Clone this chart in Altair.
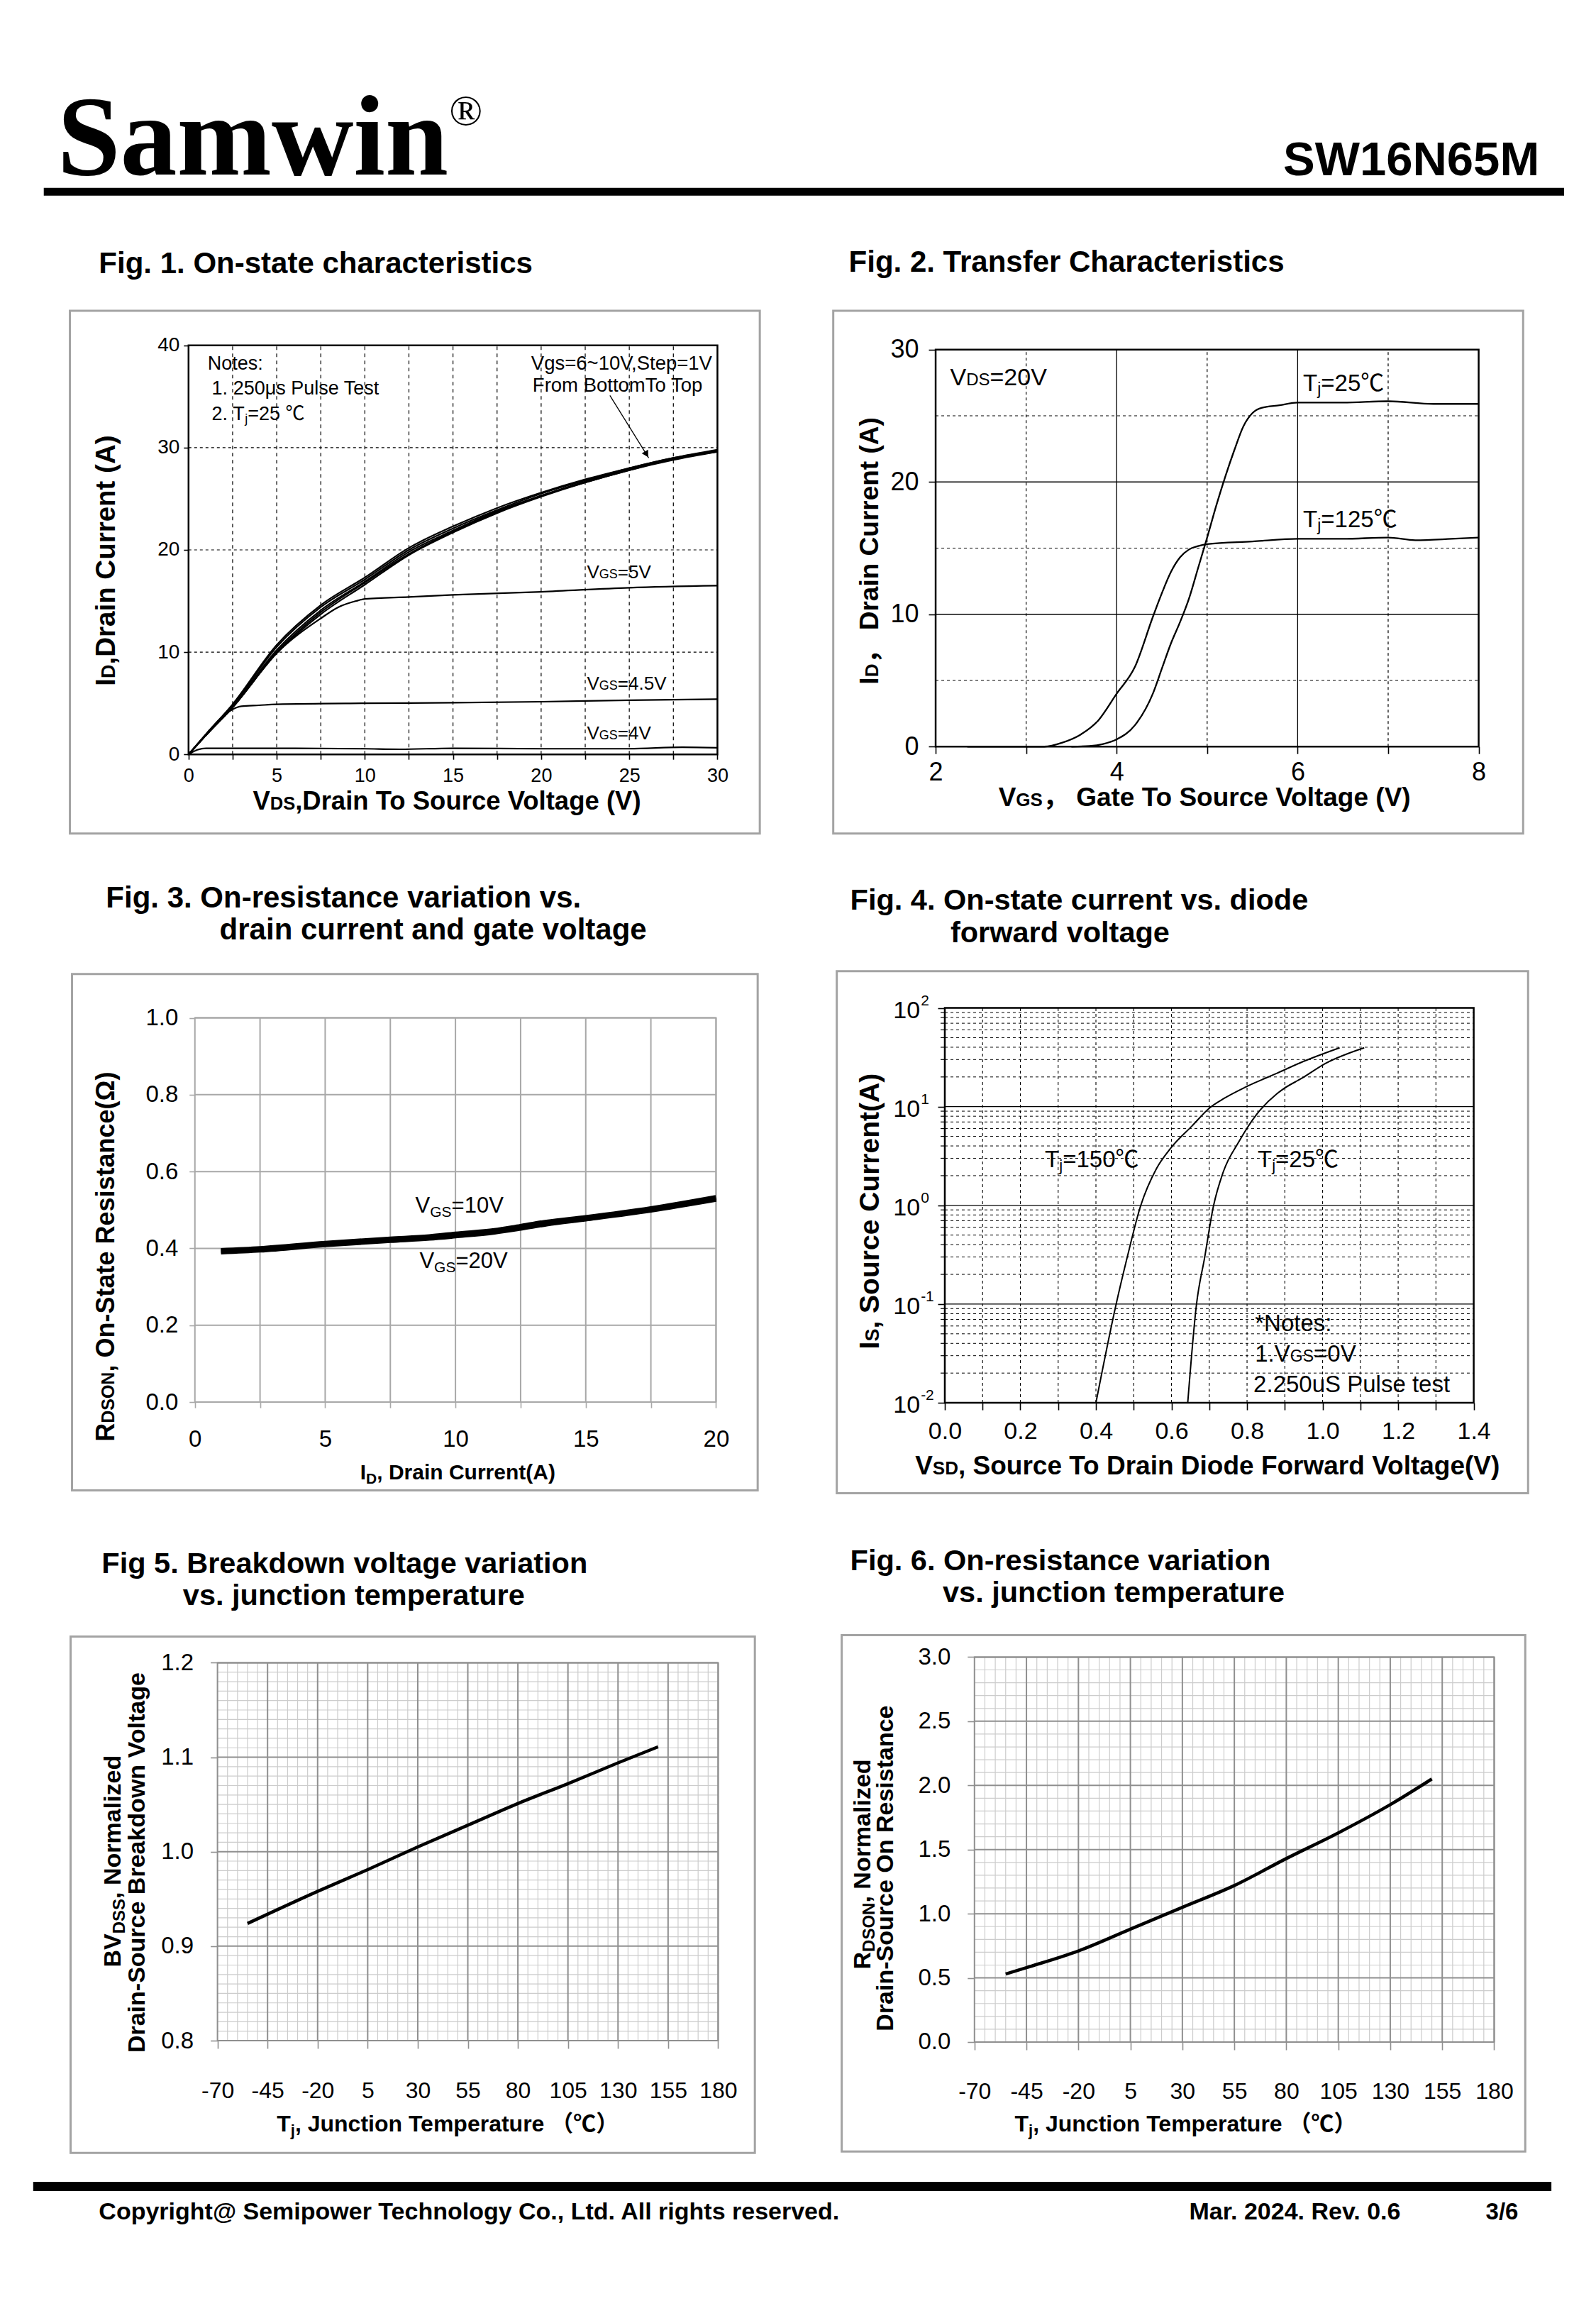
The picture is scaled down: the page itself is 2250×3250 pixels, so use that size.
import altair as alt
import pandas as pd

# ======================= values =======================
# Fig. 1  On-state characteristics (VDS [V] -> ID [A])
f1_vds = [0, 1, 2.5, 5, 7.5, 10, 12.5, 15, 17.5, 20, 22.5, 25, 27.5, 30]
f1_id_10v = [0, 2.0, 4.9, 10.7, 14.6, 17.3, 20.2, 22.3, 24.1, 25.6, 26.9, 28.0, 29.0, 29.8]
f1_id_9v = [0, 2.0, 4.8, 10.5, 14.4, 17.1, 20.0, 22.1, 23.9, 25.5, 26.8, 28.0, 29.0, 29.7]
f1_id_8v = [0, 1.9, 4.7, 10.2, 14.1, 16.9, 19.8, 21.9, 23.8, 25.3, 26.7, 27.9, 28.9, 29.7]
f1_id_7v = [0, 1.9, 4.6, 10.0, 13.9, 16.8, 19.6, 21.8, 23.7, 25.3, 26.6, 27.8, 28.9, 29.6]
f1_id_6v = [0, 1.9, 4.6, 9.9, 13.7, 16.6, 19.5, 21.7, 23.6, 25.2, 26.6, 27.8, 28.8, 29.6]
f1_vds_5v = [0, 1, 2.5, 5, 7.5, 8.5, 9.5, 10, 12.5, 15, 20, 25, 30]
f1_id_5v = [0, 1.9, 4.6, 9.9, 13.3, 14.4, 15.0, 15.2, 15.4, 15.6, 15.9, 16.3, 16.5]
f1_vds_45v = [0, 1, 2, 2.5, 3, 4, 5, 10, 15, 20, 25, 30]
f1_id_45v = [0, 1.9, 3.8, 4.4, 4.7, 4.8, 4.9, 5.0, 5.05, 5.15, 5.3, 5.4]
f1_vds_4v = [0, 0.5, 1, 3, 5, 10, 12, 15, 20, 25, 28, 30]
f1_id_4v = [0, 0.45, 0.6, 0.6, 0.6, 0.55, 0.5, 0.6, 0.55, 0.55, 0.7, 0.65]
f1_arrow_x = [23.9, 26.1]
f1_arrow_y = [35.1, 29.0]
f1_xdom, f1_ydom = [0, 30], [0, 40]
f1_xticks = [0, 2.5, 5, 7.5, 10, 12.5, 15, 17.5, 20, 22.5, 25, 27.5, 30]
f1_yticks = [0, 10, 20, 30, 40]

# Fig. 2  Transfer characteristics (VGS [V] -> ID [A])
f2_vgs_25 = [3.5, 3.7, 3.85, 4.0, 4.2, 4.4, 4.5, 4.6, 4.7, 4.8, 4.9, 5.0, 5.1, 5.2, 5.3, 5.4,
             5.5, 5.6, 5.8, 6.0, 6.5, 7.0, 7.5, 8.0]
f2_id_25 = [0, 0.05, 0.2, 0.55, 1.6, 4.0, 5.9, 7.8, 9.4, 11.2, 13.5, 15.8, 18.2, 20.4, 22.4, 24.2,
            25.2, 25.6, 25.8, 26.0, 26.0, 26.1, 25.9, 25.9]
f2_vgs_125 = [2.35, 3.2, 3.4, 3.6, 3.8, 4.0, 4.2, 4.4, 4.5, 4.6, 4.7, 4.8, 4.9, 5.0, 5.5, 6.0,
              6.5, 7.0, 7.3, 7.7, 8.0]
f2_id_125 = [0, 0, 0.3, 0.9, 2.0, 4.0, 6.0, 9.8, 11.6, 13.2, 14.3, 14.9, 15.15, 15.3, 15.5, 15.7,
             15.7, 15.8, 15.6, 15.7, 15.8]
f2_xdom, f2_ydom = [2, 8], [0, 30]
f2_xticks = [2, 3, 4, 5, 6, 7, 8]
f2_yticks = [0, 10, 20, 30]

# Fig. 3  RDS(on) vs ID
f3_id = [1, 2.5, 5, 7.5, 9, 10, 11.5, 12.5, 13.5, 15, 17.5, 20]
f3_r_10v = [0.394, 0.399, 0.413, 0.424, 0.430, 0.437, 0.446, 0.457, 0.468, 0.480, 0.503, 0.532]
f3_r_20v = [0.391, 0.396, 0.410, 0.421, 0.427, 0.433, 0.443, 0.453, 0.464, 0.477, 0.500, 0.528]
f3_xdom, f3_ydom = [0, 20], [0, 1]
f3_xticks = [0, 2.5, 5, 7.5, 10, 12.5, 15, 17.5, 20]
f3_yticks = [0, 0.2, 0.4, 0.6, 0.8, 1.0]

# Fig. 4  Body diode forward characteristics (VSD [V] -> IS [A])
f4_vsd_150 = [0.40, 0.453, 0.483, 0.518, 0.56, 0.598, 0.654, 0.702, 0.737, 0.796, 0.879, 0.95, 1.045]
f4_is_150 = [0.01, 0.098, 0.30, 0.98, 2.35, 3.8, 6.35, 9.8, 12.0, 15.8, 21.8, 28.8, 39.5]
f4_vsd_25 = [0.643, 0.666, 0.688, 0.711, 0.737, 0.779, 0.826, 0.879, 0.897, 0.944, 1.009, 1.11]
f4_is_25 = [0.01, 0.098, 0.30, 0.98, 2.18, 4.45, 8.4, 13.5, 15.2, 19.3, 27.6, 39.5]
f4_xdom, f4_ydom = [0, 1.4], [0.01, 100]
f4_xticks = [0, 0.1, 0.2, 0.3, 0.4, 0.5, 0.6, 0.7, 0.8, 0.9, 1.0, 1.1, 1.2, 1.3, 1.4]
f4_decades = [0.01, 0.1, 1, 10, 100]
f4_exponents = ["-2", "-1", "0", "1", "2"]

# Fig. 5  Normalized BVDSS vs Tj
f5_tj = [-55, -20, 5, 30, 55, 80, 105, 130, 150]
f5_bv = [0.924, 0.958, 0.981, 1.005, 1.028, 1.051, 1.072, 1.094, 1.111]
f5_xdom, f5_ydom = [-70, 180], [0.8, 1.2]
f5_xticks = [-70, -45, -20, 5, 30, 55, 80, 105, 130, 155, 180]
f5_yticks = [0.8, 0.9, 1.0, 1.1, 1.2]

# Fig. 6  Normalized RDS(on) vs Tj
f6_tj = [-55, -45, -20, 5, 30, 55, 80, 105, 130, 150]
f6_r = [0.53, 0.58, 0.71, 0.88, 1.05, 1.22, 1.43, 1.63, 1.85, 2.05]
f6_xdom, f6_ydom = [-70, 180], [0, 3]
f6_xticks = [-70, -45, -20, 5, 30, 55, 80, 105, 130, 155, 180]
f6_yticks = [0, 0.5, 1.0, 1.5, 2.0, 2.5, 3.0]

# ======================= helpers =======================
W, H = 2234, 3234
K = 0.9955  # calibration of the measured page coordinates


def P(v):
    return v * K - 8


SANS = "Liberation Sans, Arial, Noto Sans CJK SC, DejaVu Sans, sans-serif"
SERIF = "Liberation Serif, Times New Roman, serif"

_U = "ABCDEFGHIJKLMNOPQRSTUVWXYZ"
_L = "abcdefghijklmnopqrstuvwxyz"
REG_W = dict(zip(_U, [667, 667, 722, 722, 667, 611, 778, 722, 278, 500, 667, 556, 833, 722, 778, 667,
                      778, 722, 667, 611, 722, 667, 944, 667, 667, 611]))
REG_W.update(zip(_L, [556, 556, 500, 556, 556, 278, 556, 556, 222, 222, 500, 222, 833, 556, 556, 556,
                      556, 333, 500, 278, 556, 500, 722, 500, 500, 500]))
BOLD_W = dict(zip(_U, [722, 722, 722, 722, 667, 611, 778, 722, 278, 556, 722, 611, 833, 722, 778, 667,
                       778, 722, 667, 611, 722, 667, 944, 667, 667, 611]))
BOLD_W.update(zip(_L, [556, 611, 556, 611, 556, 333, 611, 611, 278, 278, 556, 278, 889, 611, 611, 611,
                       611, 389, 556, 333, 611, 556, 778, 556, 556, 500]))
for _t in (REG_W, BOLD_W):
    _t.update({c: 556 for c in "0123456789"})
    _t.update({" ": 278, ".": 278, ",": 278, "=": 584, "-": 333, "(": 333, ")": 333, "~": 584})
REG_W[":"] = 278
BOLD_W[":"] = 333


def tw(s, size, bold):
    tab = BOLD_W if bold else REG_W
    return sum(tab.get(c, 556) for c in s) * size / 1000.0


ONE = alt.Data(values=[{"k": 0}])


def _tprops(t, size, bold, align, angle, dx, dy, font, color):
    props = dict(text=t, fontSize=size, fontWeight="bold" if bold else "normal", align=align,
                 baseline="alphabetic", font=font, color=color)
    if angle:
        props["angle"] = angle
    if dx:
        props["dx"] = round(dx, 2)
    if dy:
        props["dy"] = round(dy, 2)
    return props


def ptext(x, y, t, size, bold=False, align="left", angle=0, dx=0.0, dy=0.0, font=SANS, color="black"):
    return alt.Chart(ONE).mark_text(**_tprops(t, size, bold, align, angle, dx, dy, font, color)).encode(
        x=alt.value(round(P(x), 2)), y=alt.value(round(P(y), 2)))


def prich(x, y, segs, angle=0):
    out, off = [], 0.0
    for t, size, bold, shift in segs:
        out.append(ptext(x, y, t, size, bold, "left", angle, off, shift))
        off += tw(t, size, bold)
    return out


def dtext(sx, sy, x, y, t, size, bold=False, align="left", dx=0.0, dy=0.0):
    return alt.Chart(alt.Data(values=[{"x": x, "y": y}])).mark_text(
        **_tprops(t, size, bold, align, 0, dx, dy, SANS, "black")).encode(
        x=alt.X("x:Q", scale=sx, axis=None), y=alt.Y("y:Q", scale=sy, axis=None))


def drich(sx, sy, x, y, segs):
    out, off = [], 0.0
    for t, size, bold, shift in segs:
        out.append(dtext(sx, sy, x, y, t, size, bold, "left", off, shift))
        off += tw(t, size, bold)
    return out


def prect(x0, y0, x1, y1, fill=None, stroke=None, sw=0):
    props = {}
    if fill:
        props["fill"] = fill
    else:
        props["fillOpacity"] = 0
    if stroke:
        props["stroke"] = stroke
        props["strokeWidth"] = sw
    return alt.Chart(ONE).mark_rect(**props).encode(
        x=alt.value(round(P(x0), 2)), x2=alt.value(round(P(x1), 2)),
        y=alt.value(round(P(y0), 2)), y2=alt.value(round(P(y1), 2)))


def lin(d, r):
    return alt.Scale(domain=d, range=[round(P(r[0]), 2), round(P(r[1]), 2)], nice=False, zero=False)


def vgrid(sx, sy, vals, ydom, color, width, dash=None):
    df = pd.DataFrame({"v": vals, "lo": ydom[0], "hi": ydom[1]})
    m = dict(color=color, strokeWidth=width)
    if dash:
        m["strokeDash"] = dash
    return alt.Chart(df).mark_rule(**m).encode(
        x=alt.X("v:Q", scale=sx, axis=None), y=alt.Y("lo:Q", scale=sy, axis=None), y2="hi:Q")


def hgrid(sx, sy, vals, xdom, color, width, dash=None):
    df = pd.DataFrame({"v": vals, "lo": xdom[0], "hi": xdom[1]})
    m = dict(color=color, strokeWidth=width)
    if dash:
        m["strokeDash"] = dash
    return alt.Chart(df).mark_rule(**m).encode(
        y=alt.Y("v:Q", scale=sy, axis=None), x=alt.X("lo:Q", scale=sx, axis=None), x2="hi:Q")


def axis(orient, pos, values, size, pad, tick, fmt=None, expr=None, tcolor="black", labels=True):
    kw = dict(orient=orient, values=values, labelFontSize=size, labelFont=SANS, labelPadding=pad,
              tickSize=tick, tickColor=tcolor, tickWidth=1.6, domain=False, grid=False, title=None,
              labelFlush=False, labelOverlap=False, labelColor="black", labels=labels)
    kw["offset"] = round((P(pos) - H) if orient == "bottom" else -P(pos), 2)
    if fmt:
        kw["format"] = fmt
    if expr:
        kw["labelExpr"] = expr
    return alt.Axis(**kw)


def frame(sx, sy, xdom, ydom, xax, yax, stroke, sw):
    df = pd.DataFrame({"x0": [xdom[0]], "x1": [xdom[1]], "y0": [ydom[0]], "y1": [ydom[1]]})
    return alt.Chart(df).mark_rect(fillOpacity=0, stroke=stroke, strokeWidth=sw).encode(
        x=alt.X("x0:Q", scale=sx, axis=xax), x2="x1:Q",
        y=alt.Y("y0:Q", scale=sy, axis=yax), y2="y1:Q")


def curves(sx, sy, series, width, interp="monotone"):
    rows = []
    for name, xs, ys in series:
        rows += [{"x": a, "y": b, "s": name} for a, b in zip(xs, ys)]
    return alt.Chart(pd.DataFrame(rows)).mark_line(color="black", strokeWidth=width, interpolate=interp).encode(
        x=alt.X("x:Q", scale=sx, axis=None), y=alt.Y("y:Q", scale=sy, axis=None), detail="s:N")


# ======================= Fig. 1 =======================
L1, R1, T1, B1 = 267, 1016, 489, 1068
S1x, S1y = lin(f1_xdom, [L1, R1]), lin(f1_ydom, [B1, T1])
p1 = [
    vgrid(S1x, S1y, f1_xticks[1:-1], f1_ydom, "black", 1.2, [5, 5]),
    hgrid(S1x, S1y, f1_yticks[1:-1], f1_xdom, "black", 1.2, [4, 4]),
    frame(S1x, S1y, f1_xdom, f1_ydom,
          axis("bottom", B1, f1_xticks, 27, 10, 7, "~g", "datum.value % 5 == 0 ? datum.label : ''"),
          axis("left", L1, f1_yticks, 28, 6, 7, "d"), "black", 2.5),
    curves(S1x, S1y, [("10", f1_vds, f1_id_10v), ("9", f1_vds, f1_id_9v), ("8", f1_vds, f1_id_8v),
                      ("7", f1_vds, f1_id_7v), ("6", f1_vds, f1_id_6v), ("5", f1_vds_5v, f1_id_5v),
                      ("4.5", f1_vds_45v, f1_id_45v), ("4", f1_vds_4v, f1_id_4v)], 2.2),
    alt.Chart(pd.DataFrame({"x": f1_arrow_x, "y": f1_arrow_y})).mark_line(color="black", strokeWidth=1.3).encode(
        x=alt.X("x:Q", scale=S1x, axis=None), y=alt.Y("y:Q", scale=S1y, axis=None)),
    alt.Chart(pd.DataFrame({"x": [f1_arrow_x[1]], "y": [f1_arrow_y[1]]})).mark_point(
        shape="triangle-up", filled=True, size=110, angle=149, color="black", opacity=1, yOffset=-5, xOffset=-3).encode(
        x=alt.X("x:Q", scale=S1x, axis=None), y=alt.Y("y:Q", scale=S1y, axis=None)),
]
for yv, suf in [(17.2, "=5V"), (6.3, "=4.5V"), (1.5, "=4V")]:
    p1 += drich(S1x, S1y, 22.6, yv, [("V", 26, False, 0), ("GS", 18, False, 0), (suf, 26, False, 0)])
p1 += [dtext(S1x, S1y, 1.08, 37.6, "Notes:", 27),
       dtext(S1x, S1y, 1.32, 35.2, "1. 250\u03bcs  Pulse Test", 27)]
p1 += drich(S1x, S1y, 1.32, 32.7, [("2. T", 27, False, 0), ("j", 18, False, 4), ("=25 \u2103", 27, False, 0)])
p1 += [dtext(S1x, S1y, 29.7, 37.6, "Vgs=6~10V,Step=1V", 27.5, align="right"),
       dtext(S1x, S1y, 29.15, 35.5, "From BottomTo Top", 27.5, align="right")]

# ======================= Fig. 2 =======================
L2, R2, T2, B2 = 1325, 2094, 495, 1057
S2x, S2y = lin(f2_xdom, [L2, R2]), lin(f2_ydom, [B2, T2])
p2 = [
    vgrid(S2x, S2y, [4, 6], f2_ydom, "black", 1.3),
    vgrid(S2x, S2y, [3, 5, 7], f2_ydom, "black", 1.2, [4, 4]),
    hgrid(S2x, S2y, [10, 20], f2_xdom, "black", 1.3),
    hgrid(S2x, S2y, [5, 15, 25], f2_xdom, "black", 1.2, [4, 4]),
    frame(S2x, S2y, f2_xdom, f2_ydom,
          axis("bottom", B2, f2_xticks, 36, 9, 10, "d", "datum.value % 2 == 0 ? datum.label : ''"),
          axis("left", L2, f2_yticks, 36, 14, 10, "d"), "black", 2.5),
    curves(S2x, S2y, [("25", f2_vgs_25, f2_id_25), ("125", f2_vgs_125, f2_id_125)], 2.3),
]
p2 += drich(S2x, S2y, 2.16, 27.3, [("V", 34, False, 0), ("DS", 24, False, 0), ("=20V", 34, False, 0)])
p2 += drich(S2x, S2y, 6.06, 26.9, [("T", 33, False, 0), ("j", 23, False, 5), ("=25\u2103", 33, False, 0)])
p2 += drich(S2x, S2y, 6.06, 16.6, [("T", 33, False, 0), ("j", 23, False, 5), ("=125\u2103", 33, False, 0)])

# ======================= Fig. 3 =======================
L3, R3, T3, B3 = 276, 1014, 1441, 1985
S3x, S3y = lin(f3_xdom, [L3, R3]), lin(f3_ydom, [B3, T3])
GRID3 = "#a8a8a8"
p3 = [
    vgrid(S3x, S3y, f3_xticks[1:], f3_ydom, GRID3, 2),
    hgrid(S3x, S3y, f3_yticks[1:], f3_xdom, GRID3, 2),
    frame(S3x, S3y, f3_xdom, f3_ydom,
          axis("bottom", B3, f3_xticks, 33, 28, 8, "~g", "datum.value % 5 == 0 ? datum.label : ''", GRID3),
          axis("left", L3, f3_yticks, 33, 16, 8, ".1f", None, GRID3), GRID3, 2),
    curves(S3x, S3y, [("10", f3_id, f3_r_10v), ("20", f3_id, f3_r_20v)], 7.5),
]
p3 += drich(S3x, S3y, 8.46, 0.494, [("V", 31, False, 0), ("GS", 21, False, 6), ("=10V", 31, False, 0)])
p3 += drich(S3x, S3y, 8.62, 0.349, [("V", 31, False, 0), ("GS", 21, False, 6), ("=20V", 31, False, 0)])

# ======================= Fig. 4 =======================
L4, R4, T4, B4 = 1338, 2087, 1427, 1986
S4x = lin(f4_xdom, [L4, R4])
S4y = alt.Scale(type="log", domain=f4_ydom, range=[round(P(B4), 2), round(P(T4), 2)], nice=False)
f4_minor = [m * d for d in [0.01, 0.1, 1, 10] for m in range(2, 10)]
p4 = [
    vgrid(S4x, S4y, f4_xticks[1:-1], f4_ydom, "black", 1.1, [4, 4]),
    hgrid(S4x, S4y, f4_minor, f4_xdom, "black", 1.0, [4, 4]),
    hgrid(S4x, S4y, f4_decades[1:-1], f4_xdom, "black", 1.3),
    frame(S4x, S4y, f4_xdom, f4_ydom,
          axis("bottom", B4, f4_xticks, 34, 13, 10, ".1f",
               "round(datum.value * 10) % 2 == 0 ? format(datum.value, '.1f') : ''"),
          axis("left", L4, f4_decades, 34, 10, 10, labels=False), "black", 2.5),
    alt.Chart(pd.DataFrame({"v": f4_minor})).mark_rule(color="black", strokeWidth=1.2).encode(
        x=alt.value(round(P(L4 - 6), 2)), x2=alt.value(round(P(L4), 2)), y=alt.Y("v:Q", scale=S4y, axis=None)),
    alt.Chart(pd.DataFrame({"v": f4_decades})).mark_text(align="right", fontSize=34, font=SANS, dy=4).encode(
        x=alt.value(round(P(1303), 2)), y=alt.Y("v:Q", scale=S4y, axis=None), text=alt.value("10")),
    alt.Chart(pd.DataFrame({"v": f4_decades, "e": f4_exponents})).mark_text(
        align="left", fontSize=21, font=SANS, dy=-10).encode(
        x=alt.value(round(P(1304), 2)), y=alt.Y("v:Q", scale=S4y, axis=None), text="e:N"),
    curves(S4x, S4y, [("150", f4_vsd_150, f4_is_150), ("25", f4_vsd_25, f4_is_25)], 2.0),
]
p4 += drich(S4x, S4y, 0.265, 2.42, [("T", 33, False, 0), ("j", 22, False, 5), ("=150\u2103", 33, False, 0)])
p4 += drich(S4x, S4y, 0.828, 2.42, [("T", 33, False, 0), ("j", 22, False, 5), ("=25\u2103", 33, False, 0)])
p4 += [dtext(S4x, S4y, 0.821, 0.0537, "*Notes:", 33)]
p4 += drich(S4x, S4y, 0.821, 0.026, [("1.V", 33, False, 0), ("GS", 23, False, 0), ("=0V", 33, False, 0)])
p4 += [dtext(S4x, S4y, 0.817, 0.0128, "2.250uS Pulse test", 33)]


# ======================= Fig. 5 & 6 (graph-paper grids) =======================
def paper_panel(L, R, T, B, xdom, ydom, xticks, yticks, minor_y_step, series, fmt_y):
    sx, sy = lin(xdom, [L, R]), lin(ydom, [B, T])
    minor_x = [v for v in range(xdom[0] + 5, xdom[1], 5) if (v - xdom[0]) % 25]
    n = int(round((ydom[1] - ydom[0]) / minor_y_step))
    major_y = set(round(v, 3) for v in yticks)
    minor_y = [round(ydom[0] + i * minor_y_step, 3) for i in range(1, n)]
    minor_y = [v for v in minor_y if v not in major_y]
    MINOR, MAJOR = "#cccccc", "#8f8f8f"
    return [
        vgrid(sx, sy, minor_x, ydom, MINOR, 1.2),
        hgrid(sx, sy, minor_y, xdom, MINOR, 1.2),
        vgrid(sx, sy, xticks[1:], ydom, MAJOR, 2),
        hgrid(sx, sy, yticks[1:], xdom, MAJOR, 2),
        frame(sx, sy, xdom, ydom,
              axis("bottom", B, xticks, 32, 44, 11, None, "'' + datum.value", MAJOR),
              axis("left", L, yticks, 33, 24, 10, fmt_y, None, MAJOR), MAJOR, 2),
        curves(sx, sy, series, 4.5),
    ]


p5 = paper_panel(308, 1017, 2354, 2889, f5_xdom, f5_ydom, f5_xticks, f5_yticks, 0.01,
                 [("bv", f5_tj, f5_bv)], ".1f")
p6 = paper_panel(1380, 2116, 2346, 2891, f6_xdom, f6_ydom, f6_xticks, f6_yticks, 0.1,
                 [("r", f6_tj, f6_r)], ".1f")

# ======================= page decorations =======================
BOX = "#a3a3a3"
deco = [
    # header
    ptext(81, 247, "Samwin", 160, True, font=SERIF),
    ptext(636, 177, "\u00ae", 62, False, font=SERIF),
    ptext(2180, 248, "SW16N65M", 67, True, align="right"),
    prect(62, 266, 2215, 277, fill="black"),
    # footer
    prect(47, 3089, 2197, 3102, fill="black"),
    ptext(140, 3142, "Copyright@ Semipower Technology Co., Ltd. All rights reserved.", 34, True),
    ptext(1684, 3142, "Mar. 2024. Rev. 0.6", 34, True),
    ptext(2104, 3142, "3/6", 33, True),
    # panel boxes
    prect(99, 440, 1076, 1180, stroke=BOX, sw=3),
    prect(1180, 440, 2157, 1180, stroke=BOX, sw=3),
    prect(102, 1379, 1073, 2110, stroke=BOX, sw=3),
    prect(1185, 1375, 2164, 2114, stroke=BOX, sw=3),
    prect(100, 2317, 1069, 3048, stroke=BOX, sw=3),
    prect(1192, 2315, 2160, 3046, stroke=BOX, sw=3),
    # figure titles
    ptext(140, 387, "Fig. 1. On-state characteristics", 42, True),
    ptext(1202, 385, "Fig. 2. Transfer Characteristics", 42, True),
    ptext(150, 1285, "Fig. 3. On-resistance variation vs.", 42, True),
    ptext(311, 1330, "drain current and gate voltage", 42, True),
    ptext(1204, 1288, "Fig. 4. On-state current vs. diode", 41.5, True),
    ptext(1346, 1334, "forward voltage", 41.5, True),
    ptext(144, 2227, "Fig 5. Breakdown voltage variation", 41.5, True),
    ptext(259, 2272, "vs. junction temperature", 41.5, True),
    ptext(1204, 2223, "Fig. 6. On-resistance variation", 41.5, True),
    ptext(1335, 2268, "vs. junction temperature", 41.5, True),
    # axis titles (single-run)
    ptext(205, 2637, "Drain-Source Breakdown Voltage", 34, True, align="center", angle=270),
    ptext(1265, 2645, "Drain-Source On Resistance", 34, True, align="center", angle=270),
]
deco += prich(358, 1146, [("V", 36.5, True, 0), ("DS", 25.5, True, 0), (",Drain To Source Voltage (V)", 36.5, True, 0)])
deco += prich(163, 971, [("I", 38.5, True, 0), ("D", 27, True, 0), (",Drain Current (A)", 38.5, True, 0)], 270)
deco += prich(1414, 1141, [("V", 37, True, 0), ("GS", 26, True, 0), ("\uff0c  Gate To Source Voltage (V)", 37, True, 0)])
deco += prich(1244, 969, [("I", 37, True, 0), ("D", 26, True, 0), ("\uff0c  Drain Current (A)", 37, True, 0)], 270)
deco += prich(510, 2094, [("I", 30, True, 0), ("D", 21, True, 6), (", Drain Current(A)", 30, True, 0)])
deco += prich(162, 2041, [("R", 36, True, 0), ("DSON", 25, True, 0), (", On-State Resistance(\u03a9)", 36, True, 0)], 270)
deco += prich(1296, 2087, [("V", 37, True, 0), ("SD", 26, True, 0), (", Source To Drain Diode Forward Voltage(V)", 37, True, 0)])
deco += prich(1245, 1910, [("I", 39, True, 0), ("S", 27, True, 0), (", Source Current(A)", 39, True, 0)], 270)
deco += prich(392, 3018, [("T", 32, True, 0), ("j", 22, True, 6), (", Junction Temperature \uff08\u2103\uff09", 32, True, 0)])
deco += prich(171, 2785, [("BV", 34, True, 0), ("DSS", 24, True, 6), (", Normalized", 34, True, 0)], 270)
deco += prich(1437, 3018, [("T", 32, True, 0), ("j", 22, True, 6), (", Junction Temperature \uff08\u2103\uff09", 32, True, 0)])
deco += prich(1233, 2788, [("R", 34, True, 0), ("DSON", 24, True, 6), (", Normalized", 34, True, 0)], 270)

# every panel layer sits directly in the page layer (independent scales per layer)
chart = alt.layer(*deco, *p1, *p2, *p3, *p4, *p5, *p6).resolve_scale(
    x="independent", y="independent"
).properties(
    width=W, height=H, padding=0, autosize=alt.AutoSizeParams(type="none"), background="white"
).configure_view(stroke=None)

chart.save("out.html", embed_options={"renderer": "svg", "actions": False})
